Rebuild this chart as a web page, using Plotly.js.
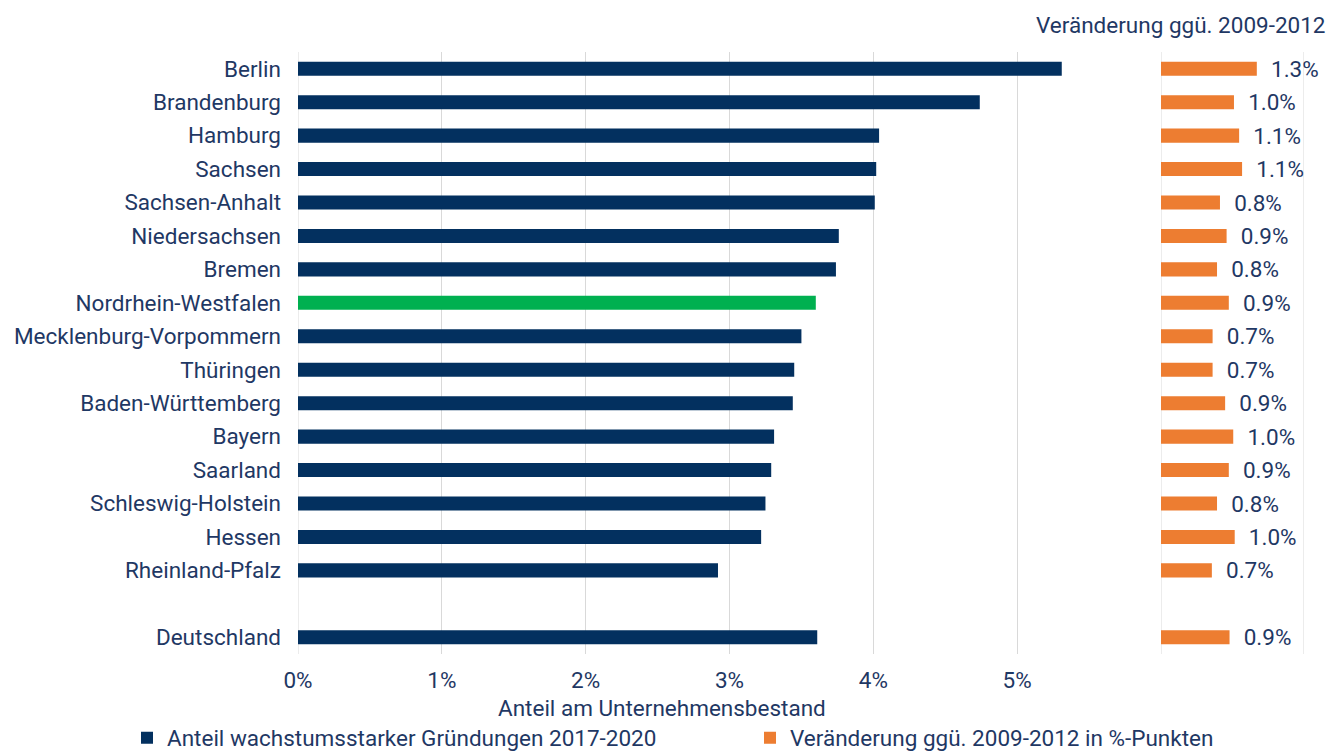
<!DOCTYPE html>
<html><head><meta charset="utf-8">
<script src="https://cdn.plot.ly/plotly-3.0.1.min.js"></script>
<style>html,body{margin:0;padding:0;background:#fff}</style>
</head><body><div id="chart" style="width:1338px;height:751px"></div>
<script>
var categories = ["Berlin","Brandenburg","Hamburg","Sachsen","Sachsen-Anhalt","Niedersachsen","Bremen","Nordrhein-Westfalen","Mecklenburg-Vorpommern","Thüringen","Baden-Württemberg","Bayern","Saarland","Schleswig-Holstein","Hessen","Rheinland-Pfalz"," ","Deutschland"];
var anteil = [5.31,4.74,4.04,4.02,4.01,3.76,3.74,3.60,3.50,3.45,3.44,3.31,3.29,3.25,3.22,2.92,null,3.61];
var veraenderung = [1.30,0.99,1.06,1.10,0.80,0.89,0.76,0.92,0.70,0.70,0.87,0.98,0.92,0.76,1.00,0.69,null,0.93];
var xTickVals = [0,1,2,3,4,5];
var xTickText = ["0%","1%","2%","3%","4%","5%"];
var highlight = "Nordrhein-Westfalen";

var navy = "#03305f", green = "#00b050", orange = "#ed7d31", txt = "#1f3864", grid = "#d9d9d9";
var FONT = "Roboto, 'Noto Sans', sans-serif";
var FS = 22.5;
var W = 1006;

var barColors = categories.map(function(c){ return c === highlight ? green : navy; });

var traces = [
  {type:"bar", orientation:"h", y:categories, x:anteil, xaxis:"x", yaxis:"y",
   marker:{color:barColors}, width:0.42, name:"Anteil wachstumsstarker Gründungen 2017-2020",
   hoverinfo:"x+y"},
  {type:"bar", orientation:"h", y:categories, x:veraenderung, xaxis:"x2", yaxis:"y",
   marker:{color:orange}, width:0.42, name:"Veränderung ggü. 2009-2012 in %-Punkten",
   texttemplate:"\u00a0\u00a0%{x:.1f}%", textposition:"outside", cliponaxis:false,
   constraintext:"none", textfont:{color:txt, size:FS, family:FONT}}
];

function vline(xref, x){
  return {type:"line", xref:xref, yref:"paper", x0:x, x1:x, y0:0, y1:1, layer:"below",
          line:{color:grid, width:1}};
}

var layout = {
  width:1338, height:751,
  margin:{l:298, r:34, t:52, b:97, autoexpand:false},
  paper_bgcolor:"#fff", plot_bgcolor:"#fff",
  font:{family:FONT, color:txt, size:FS},
  showlegend:true,
  legend:{orientation:"h", x:(127-298)/W, xanchor:"left", y:-84/602, yanchor:"middle",
    font:{size:FS, color:txt, family:FONT}, entrywidth:578, entrywidthmode:"pixels",
    itemwidth:30, traceorder:"normal", bgcolor:"rgba(0,0,0,0)"},
  xaxis:{domain:[0,863/W], range:[0,6], tickvals:xTickVals, ticktext:xTickText,
    showgrid:true, gridcolor:grid, gridwidth:1, zeroline:false, showline:false,
    ticks:"", ticklabelstandoff:10, tickfont:{size:FS, color:txt}},
  xaxis2:{domain:[863/W,1], range:[0,1.94], showticklabels:false,
    showgrid:false, zeroline:false, showline:false, ticks:""},
  yaxis:{type:"category", categoryorder:"array", categoryarray:categories, autorange:"reversed",
    showgrid:false, zeroline:false, showline:false, ticks:"", ticklabelstandoff:16,
    tickfont:{size:FS, color:txt}},
  shapes:[vline("x",0), vline("x2",0), vline("x2",1.94)],
  annotations:[
    {text:"Veränderung ggü. 2009-2012", xref:"paper", yref:"paper", x:1.023, y:1, yshift:27,
     xanchor:"right", yanchor:"middle", showarrow:false, font:{size:FS, color:txt}},
    {text:"Anteil am Unternehmensbestand", xref:"x", yref:"paper", x:2.53, y:0, yshift:-54,
     xanchor:"center", yanchor:"middle", showarrow:false, font:{size:FS, color:txt}}
  ]
};

Plotly.newPlot("chart", traces, layout, {displayModeBar:false, staticPlot:true});
</script></body></html>
